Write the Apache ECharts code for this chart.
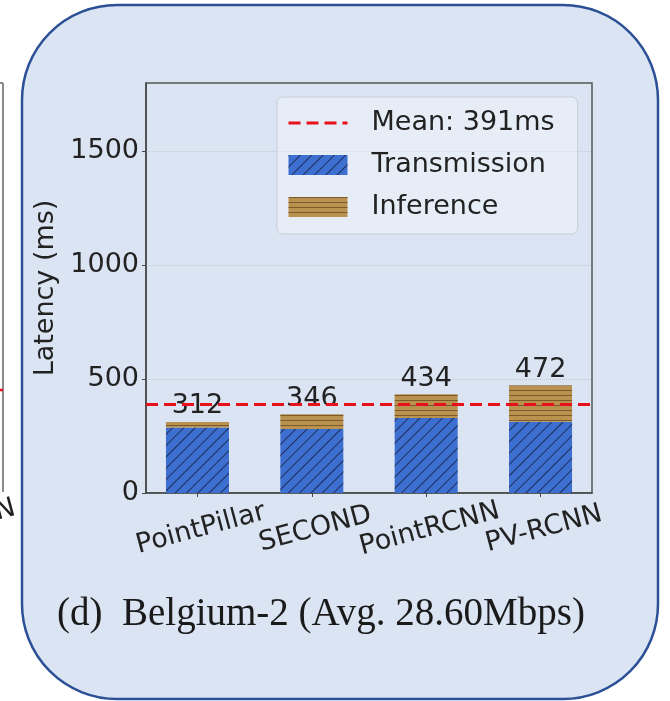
<!DOCTYPE html>
<head>
  <meta charset="utf-8">
  <script src="https://cdn.jsdelivr.net/npm/echarts@6/dist/echarts.min.js"></script>
  <style>
    html,body{margin:0;padding:0;background:#fff;}
    #chart{width:670px;height:701px;}
  </style>
</head>
<body>
  <div id="chart"></div>
  <script>
    // values
    var models = ['PointPillar', 'SECOND', 'PointRCNN', 'PV-RCNN'];
    var transmission = [288, 281, 329, 313];
    var inference = [24, 65, 105, 159];
    var totals = [312, 346, 434, 472];
    var meanLatency = 391;
    var yTicks = [0, 500, 1000, 1500];

    var font = 'DejaVu Sans';
    var chart = echarts.init(document.getElementById('chart'));

    // value first so that the stack runs on y, model index second
    function pairs(arr) { return arr.map(function (v, i) { return [v, i]; }); }

    var meanStyle = {color: '#e8101a', width: 3, type: [12, 6]};

    var option = {
      animation: false,
      backgroundColor: '#fff',
      title: {
        text: '(d)  Belgium-2 (Avg. 28.60Mbps)',
        left: 57, top: 595,
        padding: 0,
        textStyle: {fontFamily: 'Liberation Serif', fontSize: 39, fontWeight: 'normal', color: '#1a1a1a'}
      },
      graphic: [
        {type: 'rect', z: -10, silent: true,
          shape: {x: 22, y: 5, width: 636, height: 694, r: 95},
          style: {fill: '#dbe4f3', stroke: '#2c5096', lineWidth: 2.5}},
        // edge of the neighbouring panel
        {type: 'line', z: -10, silent: true, shape: {x1: 3, y1: 83, x2: 3, y2: 492}, style: {stroke: '#666', lineWidth: 1.5}},
        {type: 'line', z: -10, silent: true, shape: {x1: 0, y1: 83, x2: 3, y2: 83}, style: {stroke: '#666', lineWidth: 1.5}},
        {type: 'line', z: -10, silent: true, shape: {x1: 0, y1: 390, x2: 3, y2: 390}, style: {stroke: '#e8101a', lineWidth: 2.5}},
        {type: 'text', z: -10, silent: true, x: -8, y: 500, rotation: 15 * Math.PI / 180,
          style: {text: 'N', fontFamily: font, fontSize: 27, fill: '#222'}}
      ],
      legend: {
        left: 277, top: 97,
        orient: 'vertical',
        padding: [11, 23, 12, 10],
        itemWidth: 59, itemHeight: 20, itemGap: 12,
        backgroundColor: 'rgba(255,255,255,0.35)',
        borderColor: '#c9ced8', borderWidth: 1, borderRadius: 6,
        textStyle: {fontFamily: font, fontSize: 27, color: '#222', lineHeight: 30, padding: [0, 0, 0, 19]},
        data: [
          {name: 'Mean: ' + meanLatency + 'ms', itemStyle: {opacity: 0}, lineStyle: meanStyle},
          {name: 'Transmission', icon: 'rect'},
          {name: 'Inference', icon: 'rect'}
        ]
      },
      grid: {left: 146, right: 78, top: 83, bottom: 208, show: true, borderColor: '#555', borderWidth: 1.5, backgroundColor: 'transparent'},
      xAxis: {
        type: 'value', min: -0.45, max: 3.45,
        axisLine: {show: true, lineStyle: {color: '#444', width: 1.5}},
        axisTick: {show: true, length: 4, customValues: [0, 1, 2, 3], lineStyle: {color: '#444'}},
        splitLine: {show: false},
        axisLabel: {
          customValues: [0, 1, 2, 3],
          rotate: 15, align: 'center', verticalAlign: 'top', margin: 23,
          fontFamily: font, fontSize: 27, color: '#222',
          formatter: function (v) { return models[Math.round(v)]; }
        }
      },
      yAxis: {
        type: 'value', min: 0, max: 1800, interval: 500,
        name: 'Latency (ms)', nameLocation: 'middle', nameGap: 78, nameRotate: 90,
        nameTextStyle: {fontFamily: font, fontSize: 27, color: '#222'},
        axisLine: {show: true, onZero: false, lineStyle: {color: '#444', width: 1.5}},
        axisTick: {show: true, length: 4, customValues: yTicks, lineStyle: {color: '#444'}},
        axisLabel: {customValues: yTicks, fontFamily: font, fontSize: 27, color: '#222', margin: 7,
          formatter: function (v) { return String(v); }},
        splitLine: {show: true, lineStyle: {color: '#c4c9d2', type: 'dotted', width: 1}}
      },
      series: [
        {
          name: 'Mean: ' + meanLatency + 'ms', type: 'line', symbol: 'none', data: [],
          lineStyle: meanStyle,
          itemStyle: {color: '#e8101a'},
          markLine: {
            silent: true, symbol: 'none', label: {show: false}, z: 10,
            lineStyle: meanStyle,
            data: [{yAxis: meanLatency}]
          }
        },
        {
          name: 'Transmission', type: 'bar', stack: 'lat', barWidth: 63,
          encode: {x: 1, y: 0},
          data: pairs(transmission),
          itemStyle: {
            color: '#3d6fd1',
            decal: {symbol: 'rect', symbolSize: 1, dashArrayX: [1, 0], dashArrayY: [1, 7], rotation: -Math.PI / 4, color: 'rgba(20,30,60,0.8)'}
          }
        },
        {
          name: 'Inference', type: 'bar', stack: 'lat', barWidth: 63,
          encode: {x: 1, y: 0},
          data: pairs(inference),
          itemStyle: {
            color: '#b9924f',
            decal: {symbol: 'rect', symbolSize: 1, dashArrayX: [1, 0], dashArrayY: [1, 3.5], rotation: 0, color: 'rgba(90,60,20,0.65)'}
          },
          label: {
            show: true, position: 'top', distance: 2,
            fontFamily: font, fontSize: 27, color: '#222',
            formatter: function (p) { return totals[p.dataIndex]; }
          }
        }
      ]
    };
    chart.setOption(option);
  </script>
</body>
